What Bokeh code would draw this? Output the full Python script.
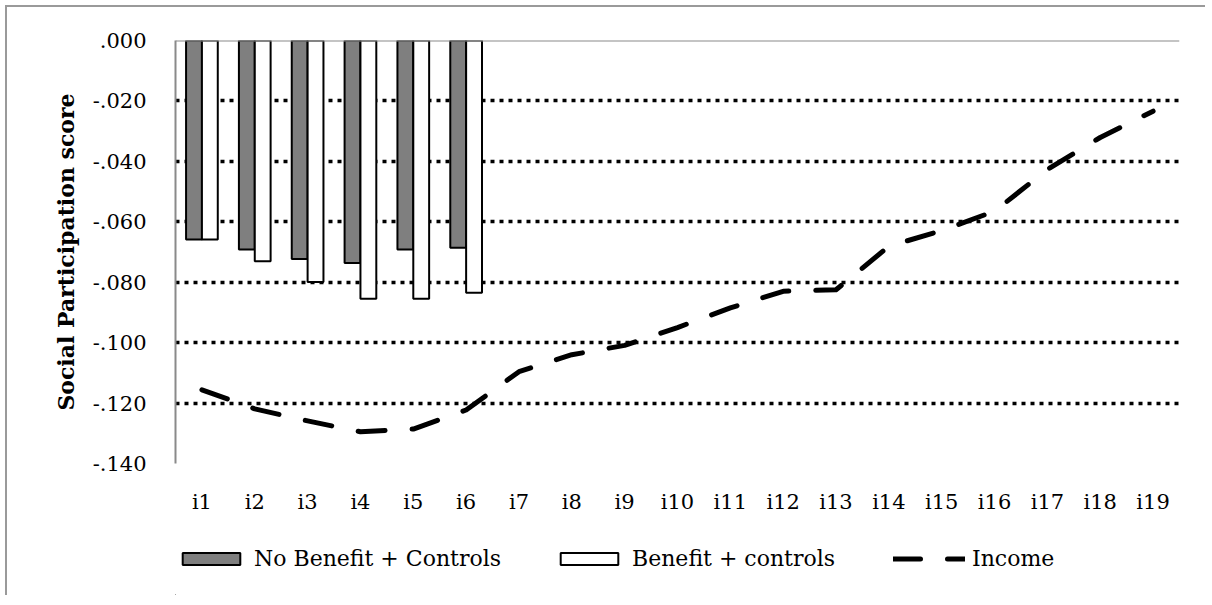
from bokeh.plotting import figure
from bokeh.layouts import column
from bokeh.models import FactorRange, FixedTicker, Legend, LegendItem, Span, Range1d
from bokeh.transform import dodge
from bokeh.embed import file_html
from bokeh.resources import INLINE

categories = ["i1", "i2", "i3", "i4", "i5", "i6", "i7", "i8", "i9", "i10",
              "i11", "i12", "i13", "i14", "i15", "i16", "i17", "i18", "i19"]
bar_categories = ["i1", "i2", "i3", "i4", "i5", "i6"]
no_benefit_controls = [-0.0659, -0.0692, -0.0723, -0.0736, -0.0692, -0.0686]
benefit_controls = [-0.0659, -0.0731, -0.0799, -0.0855, -0.0855, -0.0835]
income = [-0.1156, -0.1219, -0.1259, -0.1295, -0.1286, -0.1223, -0.1096,
          -0.1040, -0.1009, -0.0950, -0.0885, -0.0830, -0.0825, -0.0681,
          -0.0629, -0.0565, -0.0427, -0.0321, -0.0234]
y_ticks = [0.0, -0.02, -0.04, -0.06, -0.08, -0.10, -0.12, -0.14]
y_tick_labels = [".000", "-.020", "-.040", "-.060", "-.080", "-.100", "-.120", "-.140"]
y_title = "Social Participation score"
series_names = ["No Benefit + Controls", "Benefit + controls", "Income"]

FONT = "DejaVu Serif"
AXIS_GREY = "#8a8a8a"
BORDER = "2px solid #9a9a9a"

GRAY_STYLE = dict(fill_color="#7f7f7f", line_color="black", line_width=2)
WHITE_STYLE = dict(fill_color="white", line_color="black", line_width=2)
LINE_STYLE = dict(line_color="black", line_width=5, line_dash="27 27",
                  line_cap="round", line_join="round")

p = figure(width=1200, height=510, x_range=FactorRange(*categories, range_padding=0),
           y_range=(-0.14, 0.0), output_backend="svg", toolbar_location=None,
           min_border_left=168, min_border_right=28, min_border_top=33,
           min_border_bottom=54, margin=(5, 0, 0, 5))
p.styles = {"border-left": BORDER, "border-top": BORDER}
p.outline_line_color = None
p.background_fill_color = "white"
p.border_fill_color = "white"

# grid
p.xgrid.grid_line_color = None
p.ygrid.ticker = FixedTicker(ticks=y_ticks[1:])
p.ygrid.grid_line_color = "black"
p.ygrid.grid_line_width = 3.5
p.ygrid.grid_line_dash = "4 5"

# zero line (category axis crossing)
p.add_layout(Span(location=0.0, dimension="width", line_color=AXIS_GREY, line_width=2))

src_gray = dict(x=bar_categories, top=[0.0] * len(bar_categories), bottom=no_benefit_controls)
src_white = dict(x=bar_categories, top=[0.0] * len(bar_categories), bottom=benefit_controls)

p.vbar(x=dodge("x", -0.15, range=p.x_range), top="top", bottom="bottom", width=0.3,
       source=src_gray, **GRAY_STYLE)
p.vbar(x=dodge("x", 0.15, range=p.x_range), top="top", bottom="bottom", width=0.3,
       source=src_white, **WHITE_STYLE)
p.line(x=categories, y=income, **LINE_STYLE)

# axes
p.yaxis.ticker = FixedTicker(ticks=y_ticks)
p.yaxis.major_label_overrides = {t: l for t, l in zip(y_ticks, y_tick_labels)}
p.yaxis.axis_line_color = AXIS_GREY
p.yaxis.axis_line_width = 2
p.yaxis.major_tick_line_color = None
p.yaxis.minor_tick_line_color = None
p.yaxis.major_label_text_font = FONT
p.yaxis.major_label_text_font_size = "21px"
p.yaxis.major_label_text_color = "black"
p.yaxis.major_label_standoff = 23
p.yaxis.axis_label = y_title
p.yaxis.axis_label_text_font = FONT
p.yaxis.axis_label_text_font_style = "bold"
p.yaxis.axis_label_text_font_size = "22px"
p.yaxis.axis_label_text_color = "black"
p.yaxis.axis_label_standoff = 11

p.xaxis.axis_line_color = None
p.xaxis.major_tick_line_color = None
p.xaxis.minor_tick_line_color = None
p.xaxis.major_label_text_font = FONT
p.xaxis.major_label_text_font_size = "21px"
p.xaxis.major_label_text_color = "black"
p.xaxis.major_label_standoff = 20

# legend strip below the chart (legend keys use off-range sample glyphs)
lg = figure(width=1200, height=80, x_range=Range1d(0, 1), y_range=Range1d(0, 1),
            output_backend="svg", toolbar_location=None,
            x_axis_location=None, y_axis_location=None,
            min_border_left=0, min_border_right=0, min_border_top=0, min_border_bottom=0,
            margin=(0, 0, 0, 5))
lg.styles = {"border-left": BORDER}
lg.outline_line_color = None
lg.xgrid.grid_line_color = None
lg.ygrid.grid_line_color = None
lr1 = lg.vbar(x=[-50], top=[-50], bottom=[-51], width=0.1, **GRAY_STYLE)
lr2 = lg.vbar(x=[-50], top=[-50], bottom=[-51], width=0.1, **WHITE_STYLE)
lr3 = lg.line(x=[-50, -51], y=[-50, -50], **LINE_STYLE)

leg_x = [0, 378, 718]
for name, rend, lx in zip(series_names, [lr1, lr2, lr3], leg_x):
    leg = Legend(items=[LegendItem(label=name, renderers=[rend])], location=(lx, 24),
                 orientation="horizontal", glyph_width=72, glyph_height=15,
                 label_standoff=7, padding=0, margin=0, spacing=0,
                 border_line_color=None, background_fill_alpha=0,
                 label_text_font=FONT, label_text_font_size="22px",
                 label_text_color="black", label_height=22)
    lg.add_layout(leg, "center")

layout = column(p, lg, spacing=0)
open("out.html", "w").write(file_html(layout, INLINE))
